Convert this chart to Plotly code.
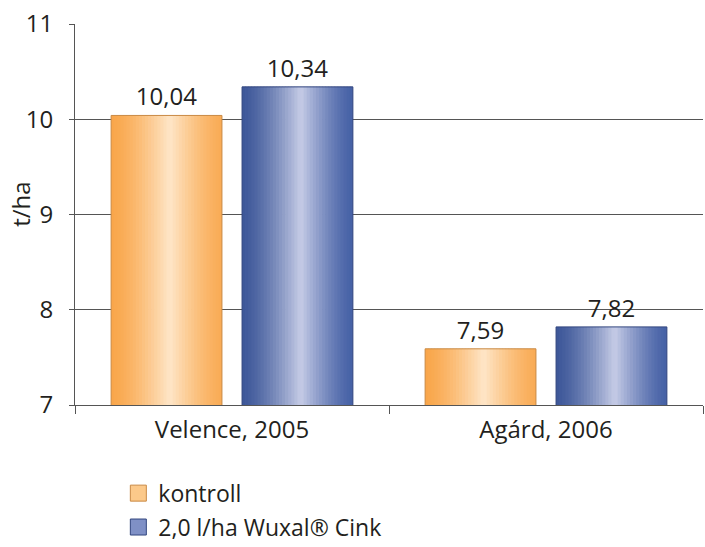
import plotly.graph_objects as go

categories = ["Velence, 2005", "Agárd, 2006"]
kontroll = [10.04, 7.59]
wuxal = [10.34, 7.82]
series_names = ["kontroll", "2,0 l/ha Wuxal® Cink"]
y_ticks = [7, 8, 9, 10, 11]

FONT = "Open Sans"
TXT = "#231f20"
FS = 24

# styling (not data)
bar_w = 0.353
gap = 0.064
N = 36

def hex2rgb(h):
    h = h.lstrip("#")
    return [int(h[i:i+2], 16) for i in (0, 2, 4)]

def mix(c1, c2, t):
    a, b = hex2rgb(c1), hex2rgb(c2)
    return "rgb(%d,%d,%d)" % tuple(round(a[i] + (b[i] - a[i]) * t) for i in range(3))

styles = [
    dict(left="#f9a64a", center="#fee6c8", right="#f9ac56", line="#c98a45", legend="#fcc98a"),
    dict(left="#3d5799", center="#c6cce6", right="#4661a6", line="#32467f", legend="#7f90c6"),
]

fig = go.Figure()
values = [kontroll, wuxal]
offsets = [-gap / 2 - bar_w, gap / 2]
peak = 0.53
for s, (vals, off, st) in enumerate(zip(values, offsets, styles)):
    step = bar_w / N
    for k in range(N):
        t = (k + 0.5) / N
        if t <= peak:
            f = (t / peak) ** 1.4
            col = mix(st["left"], st["center"], f)
        else:
            f = ((1 - t) / (1 - peak)) ** 1.4
            col = mix(st["right"], st["center"], f)
        fig.add_trace(go.Bar(
            x=categories, y=vals, offset=off + k * step, width=step * 1.25 if k < N - 1 else step,
            marker=dict(color=col, line=dict(width=0)),
            showlegend=False, hoverinfo="skip",
        ))
    # outline + value labels
    fig.add_trace(go.Bar(
        x=categories, y=vals, offset=off, width=bar_w,
        marker=dict(color="rgba(0,0,0,0)", line=dict(width=1, color=st["line"])),
        texttemplate="%{y:.2f}", textposition="outside",
        textfont=dict(family=FONT, size=FS, color=TXT),
        cliponaxis=False, showlegend=False,
    ))
    # legend entry
    fig.add_trace(go.Scatter(
        x=[None], y=[None], name=series_names[s], legendgroup=series_names[s], mode="markers",
        marker=dict(symbol="square", size=16, color=st["legend"], line=dict(width=1, color=st["line"])),
    ))

fig.update_layout(
    width=705, height=547,
    barmode="overlay",
    separators=",.",
    paper_bgcolor="white", plot_bgcolor="white",
    margin=dict(l=75, r=2, t=24, b=142, autoexpand=False),
    font=dict(family=FONT, size=FS, color=TXT),
    legend=dict(
        x=0.069, y=-0.175, xanchor="left", yanchor="top",
        orientation="v", font=dict(family=FONT, size=23, color=TXT),
        tracegroupgap=1, bgcolor="rgba(0,0,0,0)",
    ),
    xaxis=dict(
        showline=True, linecolor="#555555", linewidth=1, automargin=False,
        ticks="outside", tickson="boundaries", ticklen=8, tickcolor="#555555",
        showgrid=False, tickfont=dict(family=FONT, size=FS, color=TXT), ticklabelstandoff=3,
    ),
    yaxis=dict(
        range=[7, 11], tickvals=y_ticks, showline=True, linecolor="#555555", linewidth=1,
        ticks="outside", ticklen=5, tickcolor="#555555", automargin=False,
        showgrid=True, gridcolor="#555555", gridwidth=1,
        tickfont=dict(family=FONT, size=FS, color=TXT), ticklabelstandoff=11,
        zeroline=False,
    ),
    annotations=[dict(
        text="t/ha", xref="paper", yref="paper", x=-0.086, y=0.528,
        xanchor="center", yanchor="middle",
        textangle=-90, showarrow=False, font=dict(family=FONT, size=FS, color=TXT),
    )],
)

fig.write_html("out.html", config={"displayModeBar": False},
               post_script="document.body.style.margin='0';")
